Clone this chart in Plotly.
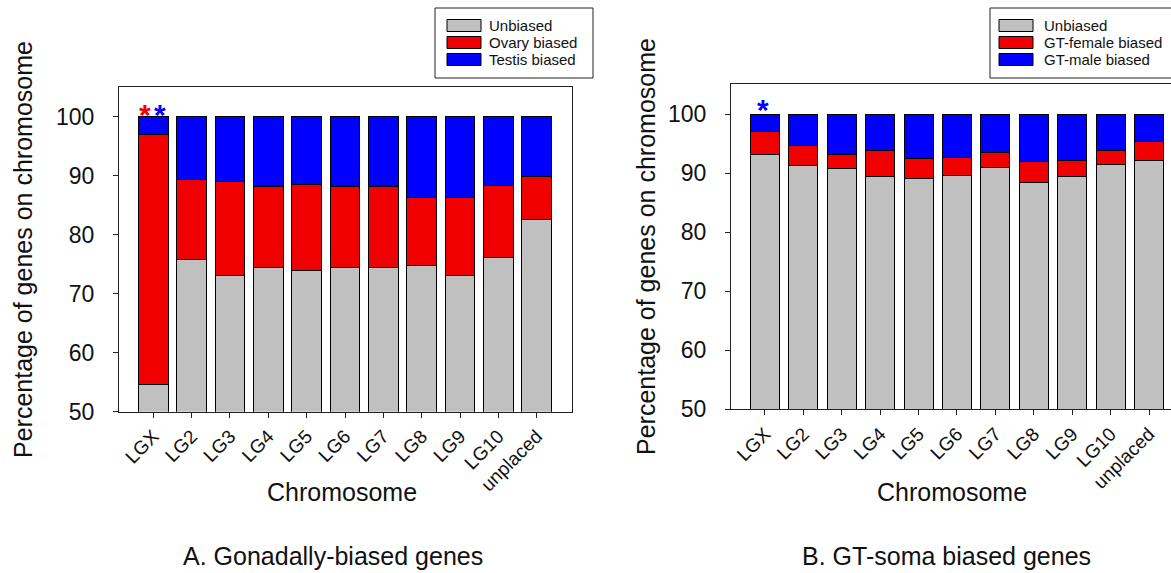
import plotly.graph_objects as go

W, H = 1171, 573

chromosomes = ["LGX", "LG2", "LG3", "LG4", "LG5", "LG6", "LG7", "LG8", "LG9", "LG10", "unplaced"]

# Panel A: Gonadally-biased genes (percent of genes on chromosome)
a_unbiased = [54.6, 75.8, 73.1, 74.5, 73.9, 74.5, 74.4, 74.7, 73.1, 76.2, 82.5]
a_ovary = [42.3, 13.6, 15.9, 13.6, 14.6, 13.6, 13.7, 11.6, 13.2, 12.2, 7.3]
a_testis = [3.1, 10.6, 11.0, 11.9, 11.5, 11.9, 11.9, 13.7, 13.7, 11.6, 10.2]

# Panel B: GT-soma biased genes
b_unbiased = [93.2, 91.2, 90.8, 89.4, 89.0, 89.6, 91.0, 88.4, 89.4, 91.4, 92.2]
b_female = [3.9, 3.4, 2.4, 4.4, 3.4, 3.0, 2.5, 3.6, 2.8, 2.4, 3.1]
b_male = [2.9, 5.4, 6.8, 6.2, 7.6, 7.4, 6.5, 8.0, 7.8, 6.2, 4.7]

legend_a = ["Unbiased", "Ovary biased", "Testis biased"]
legend_b = ["Unbiased", "GT-female biased", "GT-male biased"]

GRAY, RED, BLUE = "#C0C0C0", "#F00000", "#0000FF"
FONT = "Liberation Sans, Arial, sans-serif"


def px(x):
    return x / W


def py(y):
    return 1 - y / H


fig = go.Figure()

for vals, col, name in zip([a_unbiased, a_ovary, a_testis], [GRAY, RED, BLUE], legend_a):
    fig.add_trace(go.Bar(x=chromosomes, y=vals, name=name, marker=dict(color=col, line=dict(color="#000", width=1)),
                         width=0.78, xaxis="x", yaxis="y", showlegend=False))
for vals, col, name in zip([b_unbiased, b_female, b_male], [GRAY, RED, BLUE], legend_b):
    fig.add_trace(go.Bar(x=chromosomes, y=vals, name=name, marker=dict(color=col, line=dict(color="#000", width=1)),
                         width=0.76, xaxis="x2", yaxis="y2", showlegend=False))

axis_common = dict(showline=True, linecolor="#222", linewidth=1.3, ticks="outside", ticklen=5,
                   tickcolor="#222", showgrid=False, zeroline=False, automargin=False)

ytick = dict(tickvals=[50, 60, 70, 80, 90, 100], tickfont=dict(family=FONT, size=23, color="#111"),
             ticklabelstandoff=14)
xtick = dict(tickangle=-45, tickfont=dict(family=FONT, size=19, color="#111"))

fig.update_layout(
    width=W, height=H, margin=dict(l=0, r=0, t=0, b=0, autoexpand=False),
    paper_bgcolor="white", plot_bgcolor="white", barmode="stack",
    xaxis=dict(domain=[px(119), px(571.7)], range=[-0.895, 10.913], anchor="y", mirror=True, **axis_common, **xtick),
    yaxis=dict(domain=[py(411.7), py(86.7)], range=[50, 105.08], anchor="x", mirror=True, **axis_common, **ytick),
    xaxis2=dict(domain=[px(731), 1.0], range=[-0.885, 10.573], anchor="y2", mirror=True, **axis_common, **xtick),
    yaxis2=dict(domain=[py(409.3), py(84)], range=[50, 105.08], anchor="x2", **axis_common, **ytick),
)

ann = []
shapes = []


def label(text, x, y, size=25, angle=0):
    ann.append(dict(text=text, x=px(x), y=py(y), xref="paper", yref="paper", xanchor="center", yanchor="middle",
                    textangle=angle, showarrow=False, font=dict(family=FONT, size=size, color="#111")))


# axis titles and panel subtitles
label("Percentage of genes on chromosome", 23, 250, angle=-90)
label("Percentage of genes on chromosome", 646, 247, angle=-90)
label("Chromosome", 342, 492)
label("Chromosome", 952, 492)
label("A. Gonadally-biased genes", 333, 556)
label("B. GT-soma biased genes", 946, 556)

# significance asterisks
for xr, yr, yv, dx, col in [("x", "y", 101.6, -8, RED), ("x", "y", 101.6, 7, BLUE), ("x2", "y2", 101.9, -2, BLUE)]:
    ann.append(dict(text="<b>*</b>", x=chromosomes[0], y=yv, xref=xr, yref=yr, xshift=dx, yshift=-7,
                    xanchor="center", yanchor="middle", showarrow=False,
                    font=dict(family=FONT, size=30, color=col)))


def add_legend(x0, x1, labels, sw_x0, text_x, rows):
    shapes.append(dict(type="rect", xref="paper", yref="paper", x0=px(x0), x1=px(x1), y0=py(78), y1=py(8),
                       line=dict(color="#222", width=1), fillcolor="white"))
    for lab, col, ry in zip(labels, [GRAY, RED, BLUE], rows):
        shapes.append(dict(type="rect", xref="paper", yref="paper", x0=px(sw_x0), x1=px(sw_x0 + 34),
                           y0=py(ry + 6), y1=py(ry - 6), line=dict(color="#000", width=1), fillcolor=col))
        ann.append(dict(text=lab, x=px(text_x), y=py(ry), xref="paper", yref="paper", xanchor="left",
                        yanchor="middle", showarrow=False, font=dict(family=FONT, size=15, color="#111")))


add_legend(435, 593, legend_a, 447, 487, [25.5, 42.5, 59.5])
add_legend(990, 1180, legend_b, 999, 1042, [25.5, 42.5, 59.5])

fig.update_layout(annotations=ann, shapes=shapes)

fig.write_html("out.html", config={"displayModeBar": False},
               post_script="document.body.style.margin='0px';document.body.style.overflow='hidden';")
